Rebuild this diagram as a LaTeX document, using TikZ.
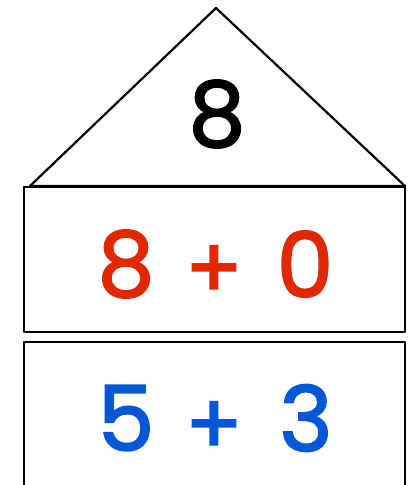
\documentclass[tikz,border=0pt]{standalone}
\usepackage{fontspec}
\setmainfont{Poppins}
\newfontfamily\numfont{Poppins}[FakeBold=2.2]
\definecolor{numred}{RGB}{226,40,0}
\definecolor{numblue}{RGB}{4,88,216}
\begin{document}
\begin{tikzpicture}[x=1pt,y=-1pt,
  edge/.style={draw=black,line width=2.2pt,line join=round},
  num/.style={font=\fontsize{90}{90}\numfont,inner sep=0pt,anchor=center},
  plus/.style={num,font=\fontsize{84}{84}\numfont}]
\useasboundingbox (0,0) rectangle (413,485);
\fill[white] (0,0) rectangle (413,485);
% roof
\draw[edge] (30,186) -- (216,8) -- (405,186) -- cycle;
% box 1
\draw[edge] (24,187) rectangle (405,332);
% box 2 (continues past bottom)
\draw[edge] (24,492) -- (24,342) -- (405,342) -- (405,492);
\node[num,text=black] (top) at (217,114) {8};
\node[num,text=numred] (a1) at (126,264) {8};
\node[plus,text=numred] (p1) at (214,272) {+};
\node[num,text=numred] (b1) at (305,264) {0};
\node[num,text=numblue] (a2) at (126,418) {5};
\node[plus,text=numblue] (p2) at (214,428) {+};
\node[num,text=numblue] (b2) at (306,418) {3};
\end{tikzpicture}
\end{document}
